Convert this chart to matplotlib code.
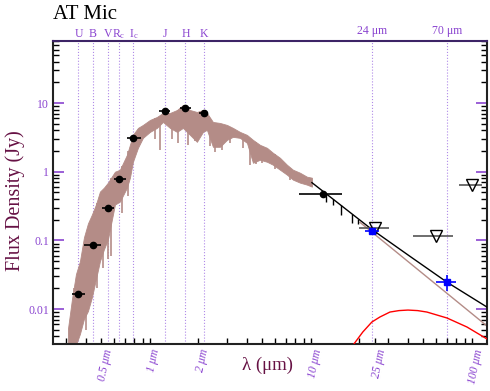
import matplotlib
matplotlib.use("Agg")
import matplotlib.pyplot as plt
import matplotlib.transforms as mtransforms
from matplotlib.ticker import LogLocator, NullFormatter
import numpy as np

plt.rcParams['font.family'] = ['Liberation Serif', 'DejaVu Serif']
plt.rcParams['mathtext.fontset'] = 'custom'
plt.rcParams['mathtext.rm'] = 'Liberation Serif'
plt.rcParams['mathtext.it'] = 'Liberation Serif:italic'

star_name = 'AT Mic'

# optical / near-IR photometry (Jy), with filter widths in microns
band_names = ['U', 'B', 'V', 'R$_{\\rm c}$', 'I$_{\\rm c}$', 'J', 'H', 'K']
band_wl = [0.36, 0.44, 0.55, 0.64, 0.79, 1.235, 1.662, 2.159]
band_flux = [0.0165, 0.085, 0.30, 0.79, 3.1, 7.6, 8.5, 7.2]
band_wl_lo = [0.328, 0.389, 0.503, 0.598, 0.72, 1.137, 1.536, 2.015]
band_wl_hi = [0.395, 0.496, 0.598, 0.709, 0.879, 1.33, 1.797, 2.29]

# mid-IR detection
mir_wl = [11.8]
mir_flux = [0.48]
mir_wl_lo = [8.4]
mir_wl_hi = [15.6]

# MIPS 24 / 70 micron
mips_label = ['24 \u03bcm', '70 \u03bcm']
mips_wl = [23.9, 70.0]
mips_flux = [0.135, 0.0246]
mips_wl_lo = [21.6, 59.6]
mips_wl_hi = [26.4, 79.3]
mips_flux_lo = [0.128, 0.0183]
mips_flux_hi = [0.142, 0.031]

# IRAS upper limits
iras_wl = [25.0, 60.0, 100.0]
iras_flux = [0.149, 0.114, 0.65]
iras_wl_lo = [19.8, 43.0, 83.0]
iras_wl_hi = [30.6, 76.0, 115.0]

# photospheric model, upper and lower envelope
spec_wl = [0.3095, 0.3279, 0.3470, 0.3674, 0.3891, 0.4120, 0.4362, 0.4619,
           0.4891, 0.5179, 0.5484, 0.6062, 0.6509, 0.7197, 0.7511, 0.7843,
           0.8424, 0.9047, 1.0, 1.105, 1.204, 1.331, 1.472, 1.603, 1.772,
           1.958, 2.134, 2.259, 2.462, 2.722, 3.008, 3.278, 3.622, 4.004,
           4.363, 4.823, 5.331, 5.808, 6.420, 7.095, 7.731, 8.545, 9.444, 10.14]
spec_hi = [0.00513, 0.01396, 0.0322, 0.0496, 0.1105, 0.1764, 0.238, 0.3325,
           0.513, 0.586, 0.693, 1.0, 1.069, 1.763, 2.462, 3.438,
           4.342, 4.80, 5.67, 6.268, 7.165, 7.165, 7.916, 9.355, 7.916,
           7.406, 7.916, 7.165, 5.303, 5.129, 4.80, 4.342, 3.799, 3.438,
           2.909, 2.462, 2.228, 1.886, 1.596, 1.263, 1.069, 0.967, 0.846, 0.818]
spec_lo = [0.003, 0.003, 0.003, 0.00434, 0.00716, 0.00935, 0.0149, 0.0272,
           0.0496, 0.0741, 0.1034, 0.3325, 0.3674, 0.586, 0.818, 1.396,
           2.228, 3.11, 3.799, 4.342, 5.303, 4.342, 3.799, 4.342, 3.438,
           2.722, 3.799, 4.062, 2.303, 2.303, 2.909, 3.216, 3.11, 2.633,
           1.35, 1.492, 1.396, 1.263, 1.069, 0.905, 0.766, 0.693, 0.648, 0.606]

# strong absorption features in the model
line_wl = [0.337, 0.40, 0.47, 0.51, 0.548, 0.573, 0.67, 0.73,
           1.07, 1.154, 1.37, 1.49, 1.72, 1.90, 2.36, 2.53, 2.80, 3.14,
           3.8, 4.17, 4.55, 4.97, 5.97, 7.4]
line_top = [0.02, 0.12, 0.35, 0.5, 0.5, 0.8, 1.2, 2.0,
            6.0, 5.5, 7.2, 7.9, 7.0, 7.5, 6.0, 4.8, 5.0, 4.5,
            3.5, 2.9, 2.7, 2.4, 1.8, 1.15]
line_bot = [0.003, 0.005, 0.02, 0.04, 0.053, 0.06, 0.25, 0.45,
            3.0, 2.08, 3.0, 2.6, 2.46, 2.8, 2.4, 1.95, 2.1, 2.6,
            2.2, 1.26, 1.3, 1.35, 1.1, 0.75]

# long-wavelength model: photosphere + disk, Rayleigh-Jeans tail, cold dust
tot_wl = [10.14, 23.9, 41.2, 70.0, 124.0]
tot_flux = [0.693, 0.1443, 0.0586, 0.0246, 0.01069]
ir_line_wl = [12.40, 13.70, 15.36, 17.97, 19.58]
ir_line_top = [0.48, 0.401, 0.325, 0.244, 0.208]
ir_line_bot = [0.367, 0.333, 0.238, 0.182, 0.171]
rj_wl = [20.2, 124.0]
rj_flux = [0.1824, 0.00567]
dust_wl = [18.5, 21.0, 23.9, 26.8, 30.95, 35.2, 40.05, 46.0, 52.5, 70.0, 93.1, 124.0]
dust_flux = [0.00311, 0.00464, 0.00648, 0.00766, 0.00905, 0.0095, 0.00967,
             0.0095, 0.00905, 0.00741, 0.00548, 0.00367]

purple = '#8a44d0'
line_purple = '#b08ae8'
maroon = '#661144'
brown = '#b48c87'


def draw_model(ax):
    ax.fill_between(spec_wl, spec_lo, spec_hi, color=brown, lw=0.6, zorder=1)
    ax.vlines(line_wl, line_bot, line_top, color=brown, lw=1.2, zorder=1)
    ax.plot(rj_wl, rj_flux, color=brown, lw=1.0, zorder=2)
    ax.plot(tot_wl, tot_flux, color='black', lw=1.0, zorder=3)
    ax.vlines(ir_line_wl, ir_line_bot, ir_line_top, color='black', lw=1.0, zorder=3)
    ax.plot(dust_wl, dust_flux, color='red', lw=1.0, zorder=3)


def draw_photometry(ax):
    wl = np.array(band_wl)
    xerr = [wl - np.array(band_wl_lo), np.array(band_wl_hi) - wl]
    ax.errorbar(band_wl, band_flux, xerr=xerr, fmt='o', color='black', ms=4.5,
                elinewidth=1.2, capsize=0, zorder=5)

    wl = np.array(mir_wl)
    xerr = [wl - np.array(mir_wl_lo), np.array(mir_wl_hi) - wl]
    ax.errorbar(mir_wl, mir_flux, xerr=xerr, fmt='o', color='black', ms=4.5,
                elinewidth=1.2, capsize=0, zorder=5)

    wl = np.array(mips_wl)
    fl = np.array(mips_flux)
    xerr = [wl - np.array(mips_wl_lo), np.array(mips_wl_hi) - wl]
    yerr = [fl - np.array(mips_flux_lo), np.array(mips_flux_hi) - fl]
    ax.errorbar(mips_wl, mips_flux, xerr=xerr, yerr=yerr, fmt='s', color='blue',
                ms=5, elinewidth=1.2, capsize=0, zorder=6)

    wl = np.array(iras_wl)
    xerr = [wl - np.array(iras_wl_lo), np.array(iras_wl_hi) - wl]
    ax.errorbar(iras_wl, iras_flux, xerr=xerr, fmt='none', ecolor='#555555',
                elinewidth=1.2, capsize=0, zorder=4)
    ax.plot(iras_wl, iras_flux, 'v', mfc='none', mec='black', ms=8, mew=1.0, zorder=5)


def decorate(fig, ax):
    ax.set_xscale('log')
    ax.set_yscale('log')
    ax.set_xlim(0.25, 124)
    ax.set_ylim(0.0031, 80)

    top = mtransforms.blended_transform_factory(ax.transData, ax.transAxes)
    for wl, name in zip(band_wl, band_names):
        ax.axvline(wl, color=line_purple, ls=':', lw=0.8, zorder=0.5)
        ax.text(wl, 1.013, name, transform=top, ha='center', va='baseline',
                color=purple, fontsize=8.5)
    for wl, name in zip(mips_wl, mips_label):
        ax.axvline(wl, color=line_purple, ls=':', lw=0.8, zorder=0.5)
        ax.text(wl, 1.023, name, transform=top, ha='center', va='baseline',
                color=purple, fontsize=8.5)

    ax.set_xticks([0.5, 1, 2, 10, 25, 100])
    ax.set_xticklabels(['0.5 \u03bcm', '1 \u03bcm', '2 \u03bcm', '10 \u03bcm',
                        '25 \u03bcm', '100 \u03bcm'])
    ax.xaxis.set_minor_locator(LogLocator(base=10, subs=np.arange(2, 10)))
    ax.xaxis.set_minor_formatter(NullFormatter())
    ax.tick_params(axis='x', which='both', direction='in', length=4, width=1,
                   color='black', top=False, labelcolor=purple, labelsize=8.5, pad=3)
    shift = mtransforms.ScaledTranslation(0.04, 0, fig.dpi_scale_trans)
    for lbl in ax.get_xticklabels():
        lbl.set_rotation(78)
        lbl.set_ha('center')
        lbl.set_va('top')
        lbl.set_style('italic')
        lbl.set_transform(lbl.get_transform() + shift)

    ax.set_yticks([0.01, 0.1, 1, 10])
    ax.set_yticklabels(['0.01', '0.1', '1', '10'])
    ax.yaxis.set_minor_locator(LogLocator(base=10, subs=np.arange(2, 10)))
    ax.yaxis.set_minor_formatter(NullFormatter())
    ax.tick_params(axis='y', which='major', direction='in', length=8, width=1.2,
                   color=purple, right=True, labelcolor=purple, labelsize=8.5, pad=3)
    ax.tick_params(axis='y', which='minor', direction='in', length=4.5, width=1,
                   color='black', right=True)

    for side in ['left', 'bottom', 'right']:
        ax.spines[side].set_color('#222222')
        ax.spines[side].set_linewidth(1.5)
    ax.spines['top'].set_color('#3d2466')
    ax.spines['top'].set_linewidth(1.5)

    fig.text(53 / 490, 1 - 19 / 391, star_name, fontsize=15, va='baseline')
    fig.text(15 / 490, 1 - 201 / 391, 'Flux Density (Jy)', rotation=90,
             ha='center', va='center', color=maroon, fontsize=14.5)
    fig.text(267 / 490, 1 - 365 / 391, '\u03bb (\u03bcm)', ha='center', va='center',
             color=maroon, fontsize=13.5)


if __name__ == "__main__":
    fig = plt.figure(figsize=(4.9, 3.91), dpi=100)
    ax = fig.add_axes([53 / 490, 47 / 391, 434 / 490, 303 / 391])
    draw_model(ax)
    draw_photometry(ax)
    decorate(fig, ax)
    fig.savefig('out.png', dpi=100)
